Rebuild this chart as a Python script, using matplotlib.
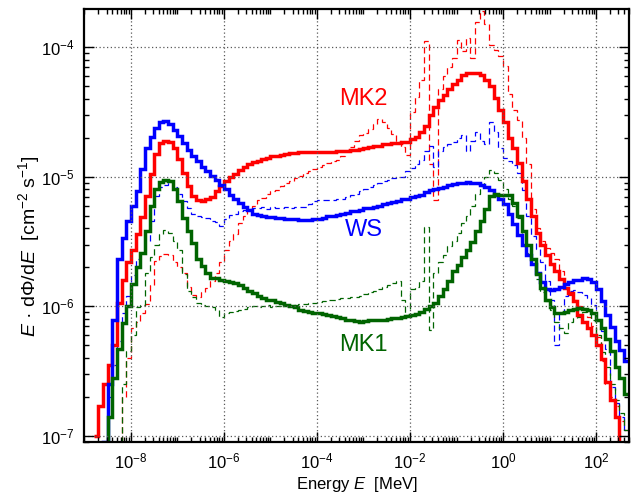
import numpy as np
from matplotlib import pyplot as plt
from matplotlib import ticker

plt.rcParams['font.family'] = ['Liberation Sans', 'DejaVu Sans']
plt.rcParams['mathtext.fontset'] = 'custom'
plt.rcParams['mathtext.rm'] = 'Liberation Sans'
plt.rcParams['mathtext.it'] = 'Liberation Sans:italic'

# histogram bins: 0.1 dex wide, log10(E/MeV) from -8.8 to 2.7
LOG_E_MIN = -8.8
LOG_E_MAX = 2.7
UNIT = 1e-7   # values below are in 1e-7 cm^-2 s^-1

X_TICKS = [1e-8, 1e-6, 1e-4, 1e-2, 1e0, 1e2]
Y_TICKS = [1e-7, 1e-6, 1e-5, 1e-4]

WS = [0.5, 0.5, 0.9, 2.5, 7.9, 23, 34, 46, 60, 78,
      115, 166, 204, 240, 266, 270, 257, 229, 207, 182,
      162, 146, 132, 120, 111, 102, 94, 87, 80, 72,
      68, 63, 59, 55, 52, 51, 50, 49, 49, 48,
      48, 47.5, 47, 47, 46.5, 46.5, 46.5, 47, 47, 48,
      49.5, 50, 51, 52, 52.5, 54, 54, 55.5, 57, 57.5,
      59, 60, 62, 63, 64.5, 65, 67, 68, 70, 71.5,
      73, 76, 78.5, 80, 82, 84, 86, 88, 89, 90,
      91, 90, 89, 87, 84, 79, 72, 68, 62, 52,
      43, 35.5, 29.5, 25, 21.4, 18.2, 15.5, 13.5, 13.3, 13.5,
      14, 15, 15.5, 16, 16, 16.4, 16.2, 15.5, 13.5, 11,
      8.5, 6.9, 5.4, 4.6, 3.8]

MK2 = [1.0, 1.7, 2.5, 3.5, 5.0, 10.7, 16, 22, 27, 36,
       49, 71, 105, 151, 182, 188, 186, 168, 138, 107,
       85, 71, 66, 65, 67, 70, 78, 85, 93, 100,
       106, 112, 119, 126, 130, 133, 138, 141, 145, 146,
       148, 151, 153, 154, 155, 155, 155, 156, 155, 156,
       156, 156, 157, 157, 158, 160, 162, 164, 168, 170,
       172, 174, 178, 180, 182, 184, 186, 186, 195, 204,
       224, 245, 302, 347, 389, 427, 479, 525, 562, 617,
       631, 637, 631, 617, 562, 501, 407, 331, 263, 200,
       166, 129, 93, 68, 50, 37, 30, 25, 21.4, 18.6,
       16.2, 13.8, 12.6, 11, 8.5, 7.6, 6.8, 6.0, 5.0, 3.9,
       2.6, 1.9, 1.4, 0.5, 0.5]

MK1 = [0.5, 0.5, 0.8, 1.4, 2.8, 4.7, 7.4, 10, 14.8, 20,
       26, 38, 60, 81, 91, 95, 93, 81, 65, 48,
       38, 31, 23.4, 20.4, 18.2, 16.6, 16.5, 16.0, 15.6, 15.5,
       15.1, 14.5, 13.8, 13.2, 12.6, 12.0, 11.6, 11.2, 11.1, 10.8,
       10.6, 10.2, 10.0, 9.8, 9.4, 9.2, 9.1, 8.9, 8.8, 8.7,
       8.5, 8.4, 8.3, 8.1, 7.9, 7.8, 7.7, 7.6, 7.7, 7.8,
       7.85, 7.9, 7.9, 8.0, 8.1, 8.1, 8.3, 8.4, 8.5, 8.7,
       9.1, 9.5, 10, 10.7, 12, 13.5, 15.8, 18.6, 21, 24,
       27, 31.6, 38, 46, 56, 71, 74, 73, 72, 72,
       63, 50, 38, 30, 23.4, 17.8, 13.8, 11.2, 9.8, 8.9,
       8.9, 9.1, 9.3, 9.5, 9.7, 9.5, 9.3, 8.9, 7.9, 6.8,
       5.6, 4.5, 3.4, 2.8, 2.1]

WS_THIN = [0.5, 0.5, 0.8, 2.0, 3.5, 5.4, 8.9, 12, 17.4, 23,
           26, 32, 46, 71, 83, 87, 91, 83, 74, 65,
           57, 52, 50, 49, 48, 46, 45, 42, 47, 51,
           52, 54, 55, 56, 57, 57, 58, 56, 58, 57,
           57, 59, 57, 58, 58, 59, 62, 65, 66, 66,
           66, 66, 67, 68, 70, 72, 74, 78, 81, 84,
           87, 89, 93, 95, 98, 99, 100, 110, 117, 126,
           135, 158, 174, 120, 158, 170, 178, 186, 200, 209,
           158, 190, 224, 190, 178, 263, 224, 166, 141, 132,
           123, 107, 79, 50, 35, 27.5, 21.9, 15.8, 11.2, 5.0,
           8.9, 12, 13.2, 13.3, 12.9, 12.2, 11.5, 10.2, 7.9, 6.5,
           4.7, 2.4, 1.8, 1.4, 1.1]

MK2_THIN = [0.5, 0.5, 0.5, 0.5, 0.5, 0.8, 2.0, 4.0, 6.8, 7.6,
            8.9, 10.5, 14.5, 22.4, 24.3, 25.4, 25, 21.9, 20, 18.2,
            14.1, 12.3, 11.7, 12.9, 13.8, 15.8, 18, 21.9, 27, 32,
            36, 44, 50, 55, 60, 66, 69, 74, 78, 79,
            85, 89, 93, 98, 102, 108, 111, 115, 119, 123,
            127, 132, 136, 146, 158, 170, 190, 209, 219, 234,
            257, 282, 263, 240, 214, 190, 170, 148, 316, 417,
            562, 1122, 126, 66, 479, 603, 708, 832, 1148, 933,
            1175, 832, 1585, 1905, 1514, 1047, 955, 851, 724, 437,
            331, 275, 200, 126, 56, 40, 32, 28, 26, 23,
            18.6, 13.8, 12.3, 11.2, 10, 9.3, 8.3, 7.1, 5.8, 3.8,
            2.5, 2.0, 1.7, 1.3, 1.1]

MK1_THIN = [0.5, 0.5, 0.5, 0.5, 0.5, 0.8, 2.5, 4.5, 6.0, 9.8,
            10.2, 18.2, 24, 30, 36, 39, 37, 32, 27, 17.8,
            13.2, 11.7, 10.7, 10.2, 10, 9.8, 9.3, 8.3, 8.9, 9.1,
            9.2, 9.3, 9.6, 9.9, 10.1, 9.8, 10, 10.2, 9.9, 10.1,
            10, 10.3, 10.2, 10.2, 10.4, 10.5, 10.6, 10.7, 10.8, 11.0,
            11.1, 11.2, 11.4, 11.5, 11.5, 11.7, 11.7, 12, 12.4, 12.9,
            13.2, 13.5, 14, 14.5, 15.1, 15.8, 11.2, 8.5, 13.5, 14.1,
            15.8, 41, 6.6, 18.2, 21.9, 25, 29, 32, 37, 44,
            50, 60, 74, 85, 100, 112, 107, 95, 81, 68,
            60, 48, 34, 26, 21.4, 16.2, 12.9, 11, 9.3, 7.6,
            6.8, 6.2, 7.6, 8.1, 8.3, 9.1, 8.9, 7.9, 6.0, 4.4,
            3.4, 2.5, 1.9, 1.5, 1.1]

RED = '#ff0000'
BLUE = '#0000ff'
GREEN = '#006400'


def main():
    nbins = len(WS)
    edges = np.logspace(LOG_E_MIN, LOG_E_MAX, nbins + 1)

    fig = plt.figure(figsize=(6.31, 4.97), dpi=100)
    ax = fig.add_axes([0.1331, 0.1113, 0.8637, 0.8706])

    thin = [(MK2_THIN, RED), (WS_THIN, BLUE), (MK1_THIN, GREEN)]
    thick = [(MK2, RED), (WS, BLUE), (MK1, GREEN)]

    for vals, col in thin:
        ax.stairs(np.array(vals) * UNIT, edges, baseline=None,
                  color=col, lw=0.9, linestyle=(0, (5, 3)))
    for vals, col in thick:
        ax.stairs(np.array(vals) * UNIT, edges, baseline=None,
                  color=col, lw=2.5)

    ax.set_xscale('log')
    ax.set_yscale('log')
    ax.set_xlim(9.8e-10, 5.1e2)
    ax.set_ylim(9.0e-8, 1.98e-4)

    ax.xaxis.set_major_locator(ticker.FixedLocator(X_TICKS))
    ax.xaxis.set_minor_locator(ticker.LogLocator(base=10, subs=np.arange(1, 10), numticks=30))
    ax.yaxis.set_major_locator(ticker.FixedLocator(Y_TICKS))
    ax.yaxis.set_minor_locator(ticker.LogLocator(base=10, subs=np.arange(2, 10), numticks=30))
    ax.xaxis.set_major_formatter(ticker.LogFormatterSciNotation())
    ax.yaxis.set_major_formatter(ticker.LogFormatterSciNotation())
    ax.xaxis.set_minor_formatter(ticker.NullFormatter())
    ax.yaxis.set_minor_formatter(ticker.NullFormatter())

    ax.tick_params(which='both', direction='in', top=True, right=True, width=1)
    ax.tick_params(which='major', length=7, labelsize=12, pad=7)
    ax.tick_params(which='minor', length=3.5)
    for s in ax.spines.values():
        s.set_linewidth(1.6)

    ax.grid(True, which='major', color='0.35', linestyle=(0, (1, 2)), lw=0.9)

    ax.set_xlabel('Energy $E$  [MeV]', fontsize=12, labelpad=3)
    ax.set_ylabel('$E$ · dΦ/d$E$  [cm$^{-2}$ s$^{-1}$]', fontsize=14)
    ax.yaxis.set_label_coords(-0.077, 0.452)

    ax.text(1e-3, 4.0e-5, 'MK2', color=RED, fontsize=17, ha='center', va='center')
    ax.text(1e-3, 3.88e-6, 'WS', color=BLUE, fontsize=17, ha='center', va='center')
    ax.text(1e-3, 5.0e-7, 'MK1', color=GREEN, fontsize=17, ha='center', va='center')

    fig.savefig('out.png', dpi=100)


if __name__ == "__main__":
    main()
